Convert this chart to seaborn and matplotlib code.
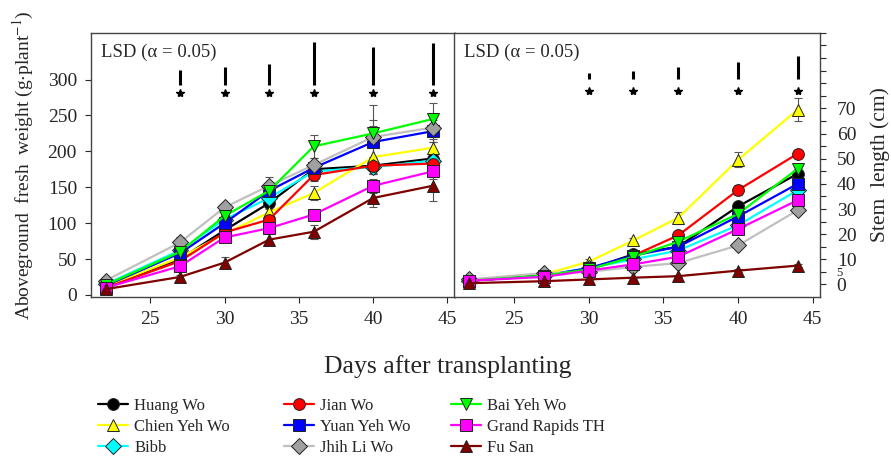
import pandas as pd
import matplotlib
matplotlib.use('Agg')
import matplotlib.pyplot as plt
import seaborn as sns

days = [22, 27, 30, 33, 36, 40, 44]
cultivars = ['Huang Wo', 'Chien Yeh Wo', 'Bibb', 'Jian Wo', 'Yuan Yeh Wo',
             'Jhih Li Wo', 'Bai Yeh Wo', 'Grand Rapids TH', 'Fu San']

# aboveground fresh weight (g/plant)
fw_huang = [12, 50, 90, 128, 175, 180, 190]
fw_chien = [12, 52, 85, 115, 142, 192, 205]
fw_bibb = [15, 62, 105, 135, 172, 178, 187]
fw_jian = [10, 47, 87, 105, 167, 180, 183]
fw_yuan = [13, 58, 100, 145, 177, 213, 228]
fw_jhih = [20, 73, 122, 152, 181, 220, 233]
fw_bai = [14, 60, 110, 145, 207, 225, 245]
fw_grand = [10, 40, 80, 93, 112, 152, 172]
fw_fusan = [8, 25, 45, 77, 88, 135, 152]

fw_err_huang = [2, 4, 6, 8, 8, 12, 10]
fw_err_chien = [2, 4, 6, 8, 10, 15, 12]
fw_err_bibb = [2, 4, 6, 6, 8, 10, 10]
fw_err_jian = [2, 4, 6, 8, 8, 10, 10]
fw_err_yuan = [2, 4, 6, 8, 8, 30, 15]
fw_err_jhih = [2, 8, 6, 12, 10, 44, 20]
fw_err_bai = [2, 4, 6, 8, 16, 10, 22]
fw_err_grand = [2, 4, 6, 6, 8, 10, 10]
fw_err_fusan = [1, 3, 8, 8, 10, 12, 21]

# stem length (cm)
sl_huang = [1.5, 3.5, 6, 12, 15, 31, 44]
sl_chien = [1.5, 4, 9, 17.5, 26.5, 49.5, 69.5]
sl_bibb = [1.5, 3.5, 6.5, 10, 13.5, 23.5, 37.5]
sl_jian = [1.5, 3.5, 6, 11.5, 19.5, 37.5, 52]
sl_yuan = [1.5, 3.5, 6.5, 11.5, 15, 27, 40]
sl_jhih = [2, 4.5, 5, 7, 8.5, 15.5, 29.5]
sl_bai = [1.5, 3.5, 6, 11, 17, 28, 46]
sl_grand = [1.5, 3, 5.5, 8, 11, 22, 33.5]
sl_fusan = [0.5, 1.3, 2, 2.7, 3.3, 5.5, 7.5]

sl_err_huang = [0.3, 0.3, 0.5, 0.5, 1, 1.5, 1.5]
sl_err_chien = [0.3, 0.5, 1, 1, 2.5, 3, 4.5]
sl_err_bibb = [0.3, 0.3, 0.5, 0.5, 1, 1, 1.5]
sl_err_jian = [0.3, 0.5, 0.5, 1, 1, 2, 1.5]
sl_err_yuan = [0.3, 0.3, 0.5, 0.5, 1, 1, 1.5]
sl_err_jhih = [0.3, 0.3, 0.5, 0.5, 1, 1, 1.5]
sl_err_bai = [0.3, 0.3, 0.5, 0.5, 1, 1, 1.5]
sl_err_grand = [0.3, 0.3, 0.5, 0.5, 1, 1, 1.5]
sl_err_fusan = [0.2, 0.2, 0.3, 0.3, 0.5, 0.5, 0.5]

# LSD bars
lsd_fw_days = [27, 30, 33, 36, 40, 44]
lsd_fw = [20, 24, 29, 60, 53, 58]
lsd_sl_days = [30, 33, 36, 40, 44]
lsd_sl = [2.4, 3, 4.7, 6.7, 9]

colors = ['#000000', '#ffff00', '#00ffff', '#ff0000', '#0000ff',
          '#c0c0c0', '#00ff00', '#ff00ff', '#800000']
markers = ['o', '^', 'D', 'o', 's', 'D', 'v', 's', '^']

fw_vals = [fw_huang, fw_chien, fw_bibb, fw_jian, fw_yuan, fw_jhih, fw_bai, fw_grand, fw_fusan]
fw_errs = [fw_err_huang, fw_err_chien, fw_err_bibb, fw_err_jian, fw_err_yuan,
           fw_err_jhih, fw_err_bai, fw_err_grand, fw_err_fusan]
sl_vals = [sl_huang, sl_chien, sl_bibb, sl_jian, sl_yuan, sl_jhih, sl_bai, sl_grand, sl_fusan]
sl_errs = [sl_err_huang, sl_err_chien, sl_err_bibb, sl_err_jian, sl_err_yuan,
           sl_err_jhih, sl_err_bai, sl_err_grand, sl_err_fusan]

rows = []
for i, c in enumerate(cultivars):
    for j, d in enumerate(days):
        rows.append({'cultivar': c, 'day': d, 'fw': fw_vals[i][j], 'sl': sl_vals[i][j],
                     'fw_err': fw_errs[i][j], 'sl_err': sl_errs[i][j]})
data = pd.DataFrame(rows)

sns.set_style('ticks')
plt.rcParams['font.family'] = ['Liberation Serif', 'DejaVu Serif']
plt.rcParams['mathtext.fontset'] = 'stix'

fig = plt.figure(figsize=(8.91, 4.57), dpi=100)
ax1 = fig.add_axes([0.102, 0.35, 0.4085, 0.578])
ax2 = fig.add_axes([0.5096, 0.35, 0.4108, 0.578])

palette = dict(zip(cultivars, colors))
mk = dict(zip(cultivars, markers))


def draw(ax, col, errcol):
    for c in cultivars:
        sub = data[data.cultivar == c]
        ax.errorbar(sub['day'], sub[col], yerr=sub[errcol], fmt='none',
                    ecolor='#555555', elinewidth=0.8, capsize=3, capthick=0.8, zorder=1)
    sns.lineplot(data=data, x='day', y=col, hue='cultivar', style='cultivar',
                 hue_order=cultivars, style_order=cultivars, palette=palette,
                 markers=mk, dashes=False, markersize=8.5, linewidth=1.6,
                 markeredgecolor='#222222', markeredgewidth=0.7, ax=ax, zorder=3)
    for line in ax.get_lines():
        if line.get_color() == '#c0c0c0':
            line.set_markerfacecolor('#a0a0a0')


draw(ax1, 'fw', 'fw_err')
draw(ax2, 'sl', 'sl_err')

handles, labels = ax1.get_legend_handles_labels()
for a in (ax1, ax2):
    if a.get_legend():
        a.get_legend().remove()
for h in handles:
    if h.get_color() == '#c0c0c0':
        h.set_markerfacecolor('#a0a0a0')

# LSD bars and stars
ax1.vlines(lsd_fw_days, [293] * len(lsd_fw), [293 + v for v in lsd_fw], color='k', lw=2.2)
ax1.plot(lsd_fw_days, [281] * len(lsd_fw_days), ls='none', marker='*', color='k', ms=6)
ax2.vlines(lsd_sl_days, [81.8] * len(lsd_sl), [81.8 + v for v in lsd_sl], color='k', lw=2.2)
ax2.plot(lsd_sl_days, [77] * len(lsd_sl_days), ls='none', marker='*', color='k', ms=6)
for a in (ax1, ax2):
    a.text(0.027, 0.96, 'LSD (\u03b1 = 0.05)', transform=a.transAxes, fontsize=13.5,
           va='top', ha='left')

# axes
for a in (ax1, ax2):
    a.set_xlim(21, 45.5)
    a.set_xticks([25, 30, 35, 40, 45])
    a.tick_params(axis='x', labelsize=14, length=4, direction='out', pad=6)
    a.set_xlabel('')
    for s in a.spines.values():
        s.set_visible(True)
        s.set_color('#444444')
        s.set_linewidth(1.0)

ax1.set_ylim(-3, 365)
ax1.set_yticks([0, 50, 100, 150, 200, 250, 300])
ax1.tick_params(axis='y', labelsize=14, length=4, direction='out', pad=6)
ax1.set_ylabel(r'Aboveground  fresh  weight (g$\cdot$plant$^{-1}$)', fontsize=14)
ax1.yaxis.set_label_coords(-0.15, 0.5)

ax2.set_ylim(-5, 100)
ax2.yaxis.tick_right()
ax2.yaxis.set_label_position('right')
ax2.set_yticks(list(range(0, 101, 5)))
ax2.set_yticklabels(['0', '5', '10', '', '20', '', '30', '', '40', '', '50', '', '60', '', '70',
                     '', '', '', '', '', ''])
ax2.tick_params(axis='y', labelsize=14, length=4, direction='out', pad=8)
# the "5" label sits squeezed between 0 and 10, as in the original
ax2.get_yticklabels()[1].set_fontsize(9)
ax2.set_ylabel('Stem  length (cm)', fontsize=15.5, labelpad=10)

fig.text(0.502, 0.197, 'Days after transplanting', fontsize=18.5, ha='center', va='center')

col_x = [102 / 891, 288 / 891, 455 / 891]
for k in range(3):
    leg = fig.legend(handles[3 * k:3 * k + 3], labels[3 * k:3 * k + 3], loc='upper left',
                     bbox_to_anchor=(col_x[k] - 0.004, 1 - 398 / 457), frameon=False,
                     fontsize=12, handlelength=1.8, handletextpad=0.35, labelspacing=0.3,
                     borderaxespad=0, borderpad=0)

fig.savefig('out.png', dpi=100)
